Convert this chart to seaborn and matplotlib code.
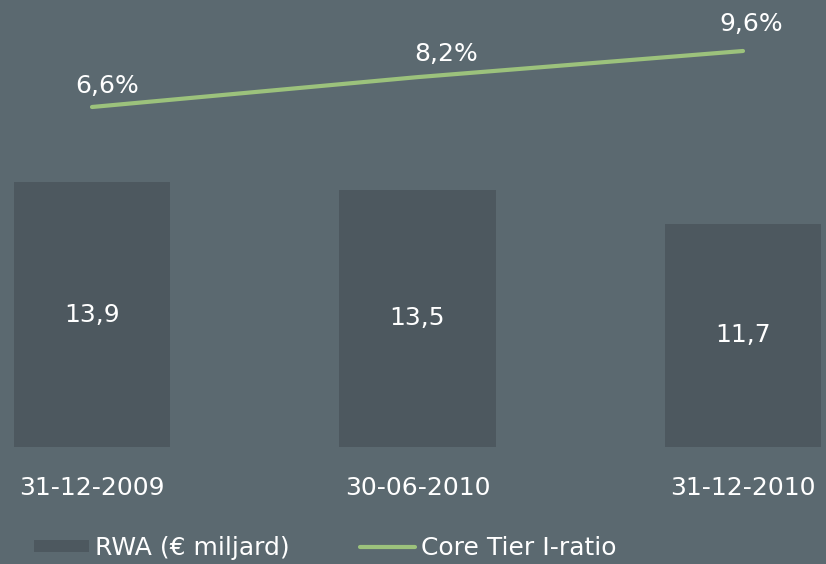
import numpy as np
import pandas as pd
import matplotlib
matplotlib.use("Agg")
import matplotlib.pyplot as plt
import seaborn as sns
from matplotlib.patches import Patch
from matplotlib.lines import Line2D

dates = ["31-12-2009", "30-06-2010", "31-12-2010"]
rwa = [13.9, 13.5, 11.7]
core_tier = [6.6, 8.2, 9.6]
rwa_labels = ["13,9", "13,5", "11,7"]
ratio_labels = ["6,6%", "8,2%", "9,6%"]

bg = "#5b6970"
bar_color = "#4d585f"
line_color = "#9cc27c"
fs = 18

sns.set_theme(style="white")
plt.rcParams["font.family"] = ["DejaVu Sans"]

fig = plt.figure(figsize=(8.26, 5.64), dpi=100, facecolor=bg)
ax = fig.add_axes([0, 117 / 564, 1, 447 / 564])
ax.set_facecolor(bg)

df = pd.DataFrame({"date": dates, "rwa": rwa})
sns.barplot(data=df, x="date", y="rwa", color=bar_color, width=0.482,
            saturation=1, linewidth=0, ax=ax)
ax.bar_label(ax.containers[0], labels=rwa_labels, label_type="center",
             color="white", fontsize=fs)
ax.set_xlim(-92 / 325.5, (826 - 92) / 325.5)
ax.set_ylim(0, 447 / 19.06)
ax.set_xlabel("")
ax.set_ylabel("")
ax.set_yticks([])
ax.tick_params(axis="x", length=0, pad=21, labelsize=fs, labelcolor="white")

ax2 = ax.twinx()
sns.lineplot(x=np.arange(len(dates)), y=core_tier, color=line_color,
             linewidth=3, ax=ax2)
ax2.set_ylim(6.6 - 340 / 18.67, 6.6 + 107 / 18.67)
ax2.set_yticks([])

# label offsets in pixels (dx, dy) relative to each point
offsets = [(15, 21), (29, 23), (8, 27)]
for i, (v, lab) in enumerate(zip(core_tier, ratio_labels)):
    ax2.annotate(lab, (i, v), xytext=(offsets[i][0] * 0.72, offsets[i][1] * 0.72),
                 textcoords="offset points", ha="center", va="center",
                 color="white", fontsize=fs)

for a in (ax, ax2):
    for s in a.spines.values():
        s.set_visible(False)

handles = [Patch(facecolor=bar_color, edgecolor="none", label="RWA (€ miljard)"),
           Line2D([0], [0], color=line_color, linewidth=3, label="Core Tier I-ratio")]
fig.legend(handles=handles, loc="center left", bbox_to_anchor=(34 / 826, 1 - 548 / 564),
           ncol=2, frameon=False, fontsize=fs, labelcolor="white",
           handlelength=2.2, handleheight=0.4, handletextpad=0.25,
           columnspacing=2.8, borderpad=0, borderaxespad=0)

fig.savefig("out.png", dpi=100, facecolor=bg)
